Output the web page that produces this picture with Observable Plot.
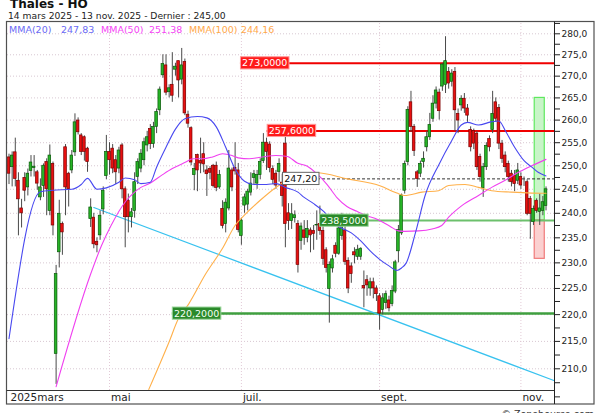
<!DOCTYPE html>
<html lang="fr"><head><meta charset="utf-8">
<script src="https://cdn.jsdelivr.net/npm/d3@7"></script>
<script src="https://cdn.jsdelivr.net/npm/@observablehq/plot@0.6"></script>
<style>
html,body{margin:0;padding:0;background:#fff;}
#chart{width:600px;height:413px;overflow:hidden;}
svg{display:block;}
</style></head><body><div id="chart"></div>
<script>
// ---------- DATA ----------
const title = "Thales - HO";
const subtitle = "14 mars 2025 - 13 nov. 2025 - Dernier : 245,00";
const copyright = "© Zonebourse.com";

// daily candles, index 0 = 14 mars 2025 ... index 171 = 13 nov. 2025
const open = [
251.8,249.7,252.9,246.8,241,247.4,245.4,248.9,249.5,248.6,
243.3,245.7,250.8,240.5,250.4,212.7,232.1,237.8,254,248.3,
249,252.9,259.9,256.6,256.2,253.7,238.8,239.1,234.2,235.5,
240.8,247.8,253,253.7,251.2,249.4,254.4,245,242.6,239.2,
240.5,247.6,249.4,251.2,254.4,258,254.7,258.5,262.2,270.2,
272.5,266.3,268,271.5,273.5,269.2,273.3,261.2,258.2,248,
252.3,251,252.5,249,249.3,250,250,245.4,240.9,237.8,
241,249,249.5,249,235.4,241.6,241.8,244.3,247.4,246.2,
248,251,255,254.6,249.3,248.3,248.7,246.4,254.8,240,
238.4,239,237.8,234.4,236.5,235,236.5,236.4,237.5,237.8,
236.4,232.5,224.9,228.9,233.4,231.8,235.4,236.5,230.4,229.3,
232.1,231.2,231.2,225.5,226.6,225,226.2,225,223.5,220.9,
222.2,222.7,222,224.4,232.3,235.9,244.7,250.8,264,258.5,
248.6,248.3,250.8,254,256.2,260.3,263.7,266.2,267.6,268,
271,268.7,271,261.4,263.3,264.8,262.6,257.8,257.6,257,
251.9,245.2,249.7,255.8,257.8,264,262.7,254.8,252.2,250.4,
248.3,247.9,246.8,247.6,246.8,246.5,243,238.2,242.6,240.3,
240.5,241.5];
const high = [
252.5,253,256,248.5,242.9,248.5,249.3,252.2,252.2,249,
247.2,250.4,251.5,254.5,250.8,229.5,242.7,238.2,254.6,248.6,
253.3,261.4,260.5,257,256.5,254,243,240,235,240.5,
245.5,256.6,255,254.6,252.2,254,254.8,245.5,244,241,
248.5,251.5,253.5,256,257.5,259,259.5,262.5,267.5,275,
275,268,275.5,273,273.5,276.5,274,262,258.5,250.5,
252.5,256,255,250,249.8,250.3,250.8,249,242.6,243,
253.3,249.5,255,250.5,239,244,245,248.5,249,249,
251.5,257,256,255.2,250,249,251.5,248.2,257.5,242,
242,240.5,238.5,238,238.5,238.5,237,237.5,240.5,241.5,
238,233,230.2,231.5,234,238,240,237.5,231,230,
233,233.5,233,228.4,227.5,227,227,225.5,224,224,
224.5,223.5,225.5,230.5,237.5,244,251,263,266.5,259,
249,251,253,257.5,261.5,265.5,267.5,267,273,279.3,
272,271.5,272,262.5,265.5,266,263.5,258.5,258,257.5,
252.5,250.5,255,256.5,266.5,265,263.5,255.5,253,251,
249,249,250.5,248.5,247.6,247,243.5,241.5,243,244,
243.5,245.5];
const low = [
246,245.5,245.5,235.4,237,242.4,243.6,247.6,247.6,244.8,
242.6,243.3,239.5,239.5,235.4,207.2,229,231.5,239.5,241.3,
248.3,252,256.7,252.2,251,248.6,237.1,232.8,232,234.5,
239.7,247,248,248.3,246,248.3,243,233,236,237,
239,246,248.5,250,253,253.5,253.8,257,261,269.5,
265.5,265,264,270,265,268,261,258.2,250,244.7,
244.5,248.3,248.5,243.5,247,245.3,244.5,245,236.8,236,
240.5,244.5,248,236,233.5,240,240.5,243.6,246,245,
247,250.5,249,248.5,246,245,246.5,241.3,233,236.5,
236.7,238,228,232.5,233.5,234,232,232.5,234.5,235.5,
229.5,228,218.4,228,231,231.5,234.5,229.5,224,226,
229.8,230.5,230.5,221.3,223.5,223.5,223,222.5,217.1,220,
221,220.5,221.5,224,230,235.5,244,250,257.3,252,
245.4,247.5,249.5,253,255.5,259.5,262.5,260,266.5,266,
267,267.5,257.5,257,262,261.5,259.5,253,253.5,249,
246.5,243.3,249,253,257,259.5,253.5,250.5,248.5,246.5,
245.5,244.5,246,245,245.6,239.5,234.7,237.5,240,237.5,
239.5,240.5];
const close = [
248.3,252.2,247.2,242.9,240,244.7,248.3,250.7,249.8,246.2,
245.4,250,245,252.2,237.5,227.8,239.9,236.1,245.4,245,
252.2,259.5,257.3,253,253,250.8,241.2,233.7,233.5,239.5,
244.7,253,251.2,249.4,248.6,253.3,245,239.2,239.2,240.2,
246.5,250.8,252.6,255.1,256.2,254.7,258.5,261.8,266.9,272.8,
266.2,267.2,265.5,272.2,269,272.5,261.5,259.2,250.7,249.3,
249,250.5,250.3,248.2,248.5,245.7,245.3,248,237.4,242.2,
249.4,245.4,248.8,236.6,238.5,243.3,244.5,246.2,248.2,248,
250.8,255,253,249.5,247,245.8,250.4,243.6,237.8,238.4,
239.8,239.6,229.6,237.3,235,236.8,235.5,235.8,237.6,236.4,
230.8,229,229.6,230.7,231.8,236.9,238,230.2,225,227.8,
231.5,232.6,232.8,225,225.6,226.2,225,223.9,220.2,223.1,
223.9,221.2,224.5,230.1,236.6,243.7,250.4,262.3,258.5,253.2,
247.2,250.4,251.5,256.2,258.9,263.7,266.7,262,272.7,273.5,
268.3,270.6,262.2,259.9,264.8,262.6,261,254,254.8,249.7,
247.6,249.7,254.3,254,261.4,260.3,254.8,251.5,249.7,247.6,
246.5,246.1,249,245.8,246.8,239.9,239.9,240.9,240.5,241,
242.3,245];

// moving averages as drawn on the picture: [candle index, value]
const mma20 = [[0,215.5],[10,244.5],[14,244.8],[20,245],[23,246],[25,247.3],[28,245],[31,245.3],[35,246.5],[37,247.4],[40,247],[42,246.2],[45,246.5],[47,249.7],[50,254],[53,258],[56,260.3],[60,260.8],[63,260.5],[66,258.5],[69,254],[72,249.3],[75,246.7],[78,246],[82,246],[85,246.2],[88,245.4],[92,244.4],[94,243.3],[97,242],[100,240.5],[104,237.7],[109,236],[112,234.4],[115,232.4],[118,230.7],[121,229.4],[123.5,228.5],[125,229],[126.5,230],[129.5,236.2],[132.5,243.7],[137,250.4],[141,255.5],[144,258.9],[146,259.5],[149.5,258.9],[153.5,259.6],[156,259.8],[158,257.7],[161,254],[164,251.1],[166.5,249.7],[168.5,248.6],[171,247.83]];
const mma50 = [[15,206.8],[26,227.8],[29.5,233.5],[32.5,237.5],[37.3,242.6],[40,244.4],[42,245.4],[44.7,246.2],[48.9,248.1],[52,249.4],[56.3,250.8],[58.5,251.5],[61.6,251.5],[64.8,251.9],[68,252.6],[71,252.2],[73,251.7],[76.5,251.5],[80.7,251.9],[85,252.2],[88.6,252],[91.8,250.6],[95,249.9],[98,248.3],[101.3,246],[104.5,243.2],[107.6,241.4],[110.8,240.4],[114,239.5],[117.2,238.8],[121.4,237.3],[124,236.4],[126,236.3],[130.4,236.4],[134.7,236.8],[137.8,237.5],[140,239.2],[144.2,241.6],[149.5,243.7],[153.7,245.4],[158,246.9],[162.2,248.6],[166.4,250],[171,251.38]];
const mma100 = [[44.5,206.3],[50.9,214.8],[54,219.3],[57.2,222],[62.6,227.8],[67.9,232.8],[72,237.5],[74.8,239.5],[80,242.7],[85.4,245.6],[90,247.5],[98,248.5],[107.7,247.2],[118.3,245.7],[123.5,244.2],[126,243.7],[131.5,244.4],[136.8,244.7],[140,245.8],[145.2,246],[149.5,245.4],[153.7,244.7],[160,244.4],[166.4,244.2],[171,244.16]];
const mmaNames = ["MMA(20)", "MMA(50)", "MMA(100)"];
const mmaLast = ["247,83", "251,38", "244,16"];

// descending trend line (two anchor points)
const trend = [[27, 241.2], [173.5, 207.9]];

// horizontal levels
const levelValues = [273.0, 257.6, 247.2, 238.5, 220.2];
const levelLabels = ["273,0000", "257,6000", "247,20", "238,5000", "220,2000"];
const levelStart  = [73.7, 82.2, 87.1, 98.9, 52];
const levelKind   = ["res", "res", "last", "sup", "sup"];

// target zones on the last candles
const zoneLo = [238.5, 230.8];
const zoneHi = [265.0, 238.5];
const zoneKind = ["up", "down"];
const zoneFrom = 167.4, zoneTo = 170.6;

// x axis ticks (candle index of the first session of the month)
const monthIndex = [0, 32, 74, 118, 163];
const monthLabel = ["2025mars", "mai", "juil.", "sept.", "nov."];

// y axis ticks
const yMajor = d3.range(205, 281, 5);
const yMinor = d3.range(207.5, 283, 5);

// ---------- STYLES ----------
const GREEN = "#27b427", GREEN_EDGE = "#0a5a0a";
const RED = "#e81010", RED_EDGE = "#7a0000";
const levelStyle = {
  res:  {line: "#f00000", width: 2,   fill: "#ff1a1a", edge: "#ff9a9a", text: "#ffffff"},
  sup:  {line: "#3f9f3f", width: 2.5, fill: "#2a8a2a", edge: "#9ad69a", text: "#f4fff4"},
  last: {line: "#333333", width: 1,   fill: "#ffffff", edge: "#666666", text: "#111111"}
};
const lineStyleSupport = {238.5: {line: "#6cc06c", width: 2}};
const zoneStyle = {up: {fill: "#c8f5c8", stroke: "#5fe85f"}, down: {fill: "#fbd0d0", stroke: "#f07a7a"}};
const mmaColors = ["#4848f0", "#f040f0", "#ffb04a"];
const mmaTextColors = ["#6a6af5", "#f545f5", "#ffa84a"];

// ---------- BUILD ----------
const candles = d3.range(close.length).map(i => ({i, o: open[i], h: high[i], l: low[i], c: close[i]}));
const isUp = d => d.c >= d.o;
const levels = levelValues.map((v, k) => ({v, label: levelLabels[k], start: levelStart[k], kind: levelKind[k]}));
const zones = zoneLo.map((lo, k) => ({lo, hi: zoneHi[k], kind: zoneKind[k]}));
const months = monthIndex.map((i, k) => ({i, label: monthLabel[k]}));

const X_DOMAIN = [-0.48, 173.7];
const Y_DOMAIN = [203.66, 282.73];
const Y_BAND = 206.12; // value at the top of the date band
const fmt = v => v.toFixed(1).replace(".", ",");

const chart = Plot.plot({
  width: 600, height: 413,
  marginTop: 22, marginBottom: 9, marginLeft: 7, marginRight: 46,
  style: {fontFamily: "'DejaVu Sans', sans-serif", background: "#fff", overflow: "visible"},
  x: {domain: X_DOMAIN},
  y: {type: "log", domain: Y_DOMAIN},
  color: {type: "identity"},
  marks: [
    // grid
    Plot.ruleY(yMajor.filter(v => v >= 210), {y: d => d, stroke: "#d8c8d2", strokeDasharray: "1,2"}),
    Plot.ruleX(months.filter(d => d.i > 0), {x: "i", y1: Y_BAND, y2: Y_DOMAIN[1], stroke: "#e2c9d6", strokeDasharray: "1,2"}),
    // target zones
    Plot.rect(zones, {x1: zoneFrom, x2: zoneTo, y1: "lo", y2: "hi",
      fill: d => zoneStyle[d.kind].fill, stroke: d => zoneStyle[d.kind].stroke, strokeWidth: 1.2}),
    // level lines
    Plot.ruleY(levels.filter(d => d.kind === "res"), {y: "v", x1: "start", x2: X_DOMAIN[1], stroke: levelStyle.res.line, strokeWidth: levelStyle.res.width}),
    Plot.ruleY(levels.filter(d => d.kind === "sup"), {y: "v", x1: "start", x2: X_DOMAIN[1],
      stroke: d => (lineStyleSupport[d.v] || levelStyle.sup).line, strokeWidth: d => (lineStyleSupport[d.v] || levelStyle.sup).width}),
    Plot.ruleY(levels.filter(d => d.kind === "last"), {y: "v", x1: "start", x2: X_DOMAIN[1], stroke: levelStyle.last.line, strokeWidth: 1, strokeDasharray: "3,2"}),
    // trend line
    Plot.line(trend, {x: d => d[0], y: d => d[1], stroke: "#38c2ef", strokeWidth: 1.2}),
    // candles
    Plot.ruleX(candles, {x: "i", y1: "l", y2: "h", stroke: "#4a4a4a", strokeWidth: 1}),
    Plot.rect(candles, {x1: d => d.i - 0.42, x2: d => d.i + 0.42, y1: "o", y2: "c",
      fill: d => isUp(d) ? GREEN : RED, stroke: d => isUp(d) ? GREEN_EDGE : RED_EDGE, strokeWidth: 0.7}),
    // moving averages
    Plot.line(mma100, {x: d => d[0], y: d => d[1], stroke: mmaColors[2], strokeWidth: 1.1, curve: "monotone-x"}),
    Plot.line(mma50, {x: d => d[0], y: d => d[1], stroke: mmaColors[1], strokeWidth: 1.1, curve: "monotone-x"}),
    Plot.line(mma20, {x: d => d[0], y: d => d[1], stroke: mmaColors[0], strokeWidth: 1.1, curve: "monotone-x"}),
    // level labels
    Plot.text(levels, {x: "start", y: "v", text: "label", textAnchor: "start", dx: 1.6, fontSize: 9.5,
      fill: d => levelStyle[d.kind].text}),
    // axes
    Plot.axisY(yMajor, {anchor: "right", tickSize: 5, tickPadding: 2, fontSize: 9, color: "#222",
      tickFormat: v => v >= 210 ? fmt(v) : "", label: null}),
    Plot.axisY(yMinor, {anchor: "right", tickSize: 5, tickFormat: () => "", color: "#222", label: null}),
    Plot.axisX(months.map(d => d.i), {anchor: "bottom", tickSize: 0, tickPadding: 3.5, dy: -14, dx: 1.5,
      textAnchor: "start", fontSize: 10.5, color: "#222", label: null,
      tickFormat: i => monthLabel[monthIndex.indexOf(i)]})
  ]
});

document.getElementById("chart").append(chart);

// label boxes behind level label texts (found by their content; same transform as the text)
const NS = "http://www.w3.org/2000/svg";
chart.querySelectorAll("text").forEach(t => {
  const k = levelLabels.indexOf(t.textContent);
  if (k < 0) return;
  const b = t.getBBox();
  const st = levelStyle[levelKind[k]];
  const r = document.createElementNS(NS, "rect");
  r.setAttribute("x", b.x - 1.6); r.setAttribute("y", b.y - 0.6);
  r.setAttribute("width", b.width + 3.2); r.setAttribute("height", b.height + 1.2);
  r.setAttribute("fill", st.fill); r.setAttribute("stroke", st.edge); r.setAttribute("stroke-width", 1);
  const tr = t.getAttribute("transform");
  if (tr) r.setAttribute("transform", tr);
  t.parentNode.insertBefore(r, t);
});

// frame, header, legend
const svg = d3.select(chart);
const deco = svg.append("g");
deco.append("rect").attr("x", 6.5).attr("y", 21.5).attr("width", 587.5).attr("height", 382.5)
  .attr("fill", "none").attr("stroke", "#505050").attr("stroke-width", 1.2);
deco.append("line").attr("x1", 6.5).attr("x2", 554).attr("y1", 390.5).attr("y2", 390.5).attr("stroke", "#333");
deco.append("line").attr("x1", 554.5).attr("x2", 554.5).attr("y1", 21.5).attr("y2", 404).attr("stroke", "#222");

const hdr = svg.append("g").attr("text-anchor", "start");
hdr.append("text").attr("x", 10).attr("y", 7.5).attr("font-size", 12).attr("font-weight", "bold")
  .attr("fill", "#111").text(title);
hdr.append("text").attr("x", 8).attr("y", 19.3).attr("font-size", 9.2).attr("fill", "#222").text(subtitle);
const legendX = [[9, 61], [101, 149], [189, 241]];
mmaNames.forEach((n, k) => {
  hdr.append("text").attr("x", legendX[k][0]).attr("y", 32.5).attr("font-size", 9.5).attr("fill", mmaTextColors[k]).text(n);
  hdr.append("text").attr("x", legendX[k][1]).attr("y", 32.5).attr("font-size", 9.5).attr("fill", mmaTextColors[k]).text(mmaLast[k]);
});
svg.append("text").attr("x", 594).attr("y", 416.5).attr("text-anchor", "end").attr("font-size", 9.5)
  .attr("fill", "#333").text(copyright);
</script>
</body></html>
